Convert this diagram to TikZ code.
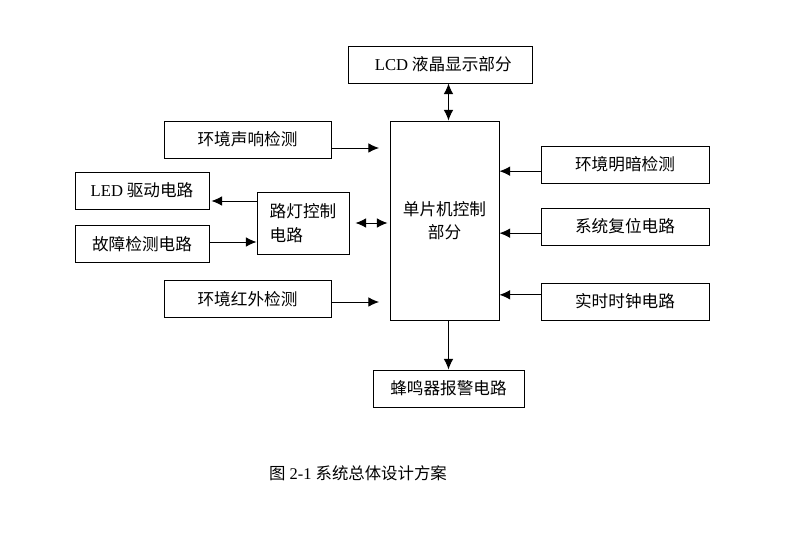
\documentclass[tikz,border=0pt]{standalone}
\usepackage{fontspec}
\setmainfont{Liberation Serif}
\newfontfamily\cjk{Noto Sans CJK SC}
\usetikzlibrary{arrows.meta,positioning,calc}
\tikzset{
    blk/.style={draw, line width=0.8pt, minimum height=1.11cm, inner sep=0pt, font=\fontsize{14.2}{20}\selectfont\cjk},
    link/.style={line width=0.8pt, -{Latex[length=3.2mm,width=2.9mm]}},
    dlink/.style={line width=0.8pt, {Latex[length=3.2mm,width=2.9mm]}-{Latex[length=3.2mm,width=2.9mm]}},
}
\begin{document}
\begin{tikzpicture}[x=0.03cm, y=-0.03cm]
    \useasboundingbox (0,0) rectangle (800,541);

    % main controller and its neighbours
    \node[blk, minimum width=3.27cm, minimum height=5.97cm, align=center] (mcu) at (444.5,220.5) {单片机控制\\部分};
    \node[blk, minimum width=5.52cm] (lcd) at (440,64.5) {\hspace{0.2cm}{\rmfamily LCD} 液晶显示部分};
    \node[blk, minimum width=4.53cm] (buzz) at (448.5,388.5) {蜂鸣器报警电路};

    % left side
    \node[blk, minimum width=5.01cm] (sound) at (247.5,139.5) {环境声响检测};
    \node[blk, minimum width=4.02cm] (led) at (142,190.5) {{\rmfamily LED} 驱动电路};
    \node[blk, minimum width=2.76cm, minimum height=1.86cm, align=left] (lamp) at (303,223) {路灯控制\\电路};
    \node[blk, minimum width=4.02cm] (fault) at (142,244) {故障检测电路};
    \node[blk, minimum width=5.01cm] (ir) at (247.5,299) {环境红外检测};

    % right side
    \node[blk, minimum width=5.04cm] (light) at (625,164.5) {环境明暗检测};
    \node[blk, minimum width=5.04cm] (reset) at (625,226.5) {系统复位电路};
    \node[blk, minimum width=5.04cm] (clock) at (625,301.5) {实时时钟电路};

    \node[font=\fontsize{14}{17}\selectfont] (cap) at (358,473) {{\cjk 图} 2-1 {\cjk 系统总体设计方案}};

    % connections
    \draw[dlink] (lcd.south -| buzz.north) -- (mcu.north -| buzz.north);
    \draw[link] (mcu.south -| buzz.north) -- (buzz.north);

    \coordinate (s1) at (379,148);
    \coordinate (i1) at (379,302);
    \draw[link] (sound.east |- s1) -- (s1);
    \draw[link] (ir.east |- i1) -- (i1);

    \coordinate (l1) at ([yshift=0.66cm]lamp.west);
    \draw[link] (l1) -- ([xshift=0.06cm]led.east |- l1);
    \coordinate (f1) at ([yshift=0.06cm]fault.east);
    \draw[link] (f1) -- (f1 -| lamp.west);
    \draw[dlink] ([xshift=0.18cm]lamp.east) -- ([xshift=-0.06cm]mcu.west |- lamp.east);

    \foreach \n/\d in {light/-0.2, reset/-0.2, clock/0.2} {
        \path ([yshift=\d cm]\n.west) coordinate (t);
        \draw[link] (t) -- (t -| mcu.east);
    }
\end{tikzpicture}
\end{document}
